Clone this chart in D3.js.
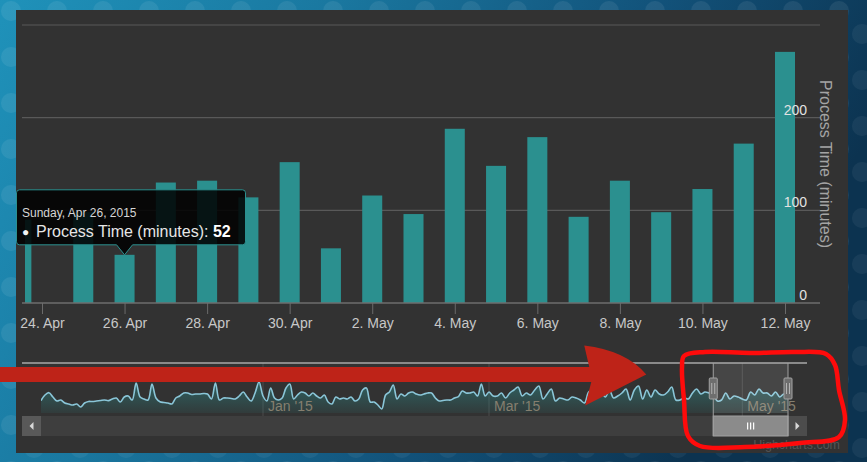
<!DOCTYPE html>
<html>
<head>
<meta charset="utf-8">
<script src="https://cdn.jsdelivr.net/npm/d3@7"></script>
<style>
  html, body { margin: 0; padding: 0; background: #14567a; overflow: hidden; }
  svg { display: block; font-family: "Liberation Sans", Arial, sans-serif; }
</style>
</head>
<body>
<svg id="chart" width="867" height="462"></svg>
<script>
// ---- data -------------------------------------------------------------
// Daily process time (minutes) shown in the zoomed column chart
const dayDates = ["2015-04-23T12:00Z", "2015-04-25", "2015-04-26", "2015-04-27", "2015-04-28",
  "2015-04-29", "2015-04-30", "2015-05-01", "2015-05-02", "2015-05-03", "2015-05-04",
  "2015-05-05", "2015-05-06", "2015-05-07", "2015-05-08", "2015-05-09", "2015-05-10",
  "2015-05-11", "2015-05-12"];
const processMinutes = [90, 98, 52, 130, 132, 114, 152, 59, 116, 96, 188, 148, 179, 93, 132,
  98, 123, 172, 271];

// x axis ticks (every second day) and y axis ticks
const xTickDates = ["2015-04-24", "2015-04-26", "2015-04-28", "2015-04-30", "2015-05-02",
  "2015-05-04", "2015-05-06", "2015-05-08", "2015-05-10", "2015-05-12"];
const yGridValues = [0, 100, 200, 300];
const yLabelValues = [0, 100, 200];

// Hovered point
const tooltipDate = "2015-04-26";
const seriesName = "Process Time (minutes)";

// Overview series for the navigator: one value per day from the start date
const overviewStart = "2014-11-06";
const overviewValues = [
  74,108,122,96,72,78,60,54,48,54,36,60,69,69,72,75,78,74,84,90,66,96,102,78,180,96,84,78,174,90,
  68,63,60,54,90,102,120,120,111,114,114,117,114,84,180,78,90,90,87,84,102,126,96,72,120,186,
  102,72,150,90,78,90,150,174,84,108,126,120,102,120,102,90,108,66,54,96,84,90,84,96,72,84,138,150,
  66,66,48,24,108,126,168,84,114,102,120,126,114,108,114,120,120,90,72,75,78,78,90,98,132,120,120,
  126,102,174,102,
  126,102,102,120,90,120,138,156,102,120,108,138,162,84,114,144,72,90,84,78,96,90,78,60,126,138,90,
  126,96,138,90,102,120,144,78,138,162,84,138,96,138,114,108,126,156,78,78,90,84,120,144,114,126,
  120,108,72,78,120,84,102,96,84,78,126,108,144,120,120,102,126,96,114,102];
const overviewTicks = ["2015-01-01", "2015-03-01", "2015-05-01"];
const overviewBreaks = ["2014-11-06", "2015-01-01", "2015-03-01", "2015-05-12"];
const selectedRange = ["2015-04-24", "2015-05-12"];

// ---- setup ------------------------------------------------------------
const parse = d3.isoParse;
const svg = d3.select("#chart");
const W = 867, H = 462;
const FONT = '"Liberation Sans", Arial, sans-serif';
const SERIES = "#2b908f";

const defs = svg.append("defs");

const bgGrad = defs.append("linearGradient").attr("id", "bgGrad")
  .attr("x1", 0).attr("y1", 0).attr("x2", 1).attr("y2", 0.3);
[["0%", "#1f92ba"], ["35%", "#1a78a0"], ["70%", "#12527a"], ["100%", "#0c3350"]]
  .forEach(([o, c]) => bgGrad.append("stop").attr("offset", o).attr("stop-color", c));

const pat = defs.append("pattern").attr("id", "bgPat")
  .attr("width", 46).attr("height", 46).attr("patternUnits", "userSpaceOnUse");
pat.append("circle").attr("cx", 11).attr("cy", 11).attr("r", 10).attr("fill", "#ffffff").attr("opacity", 0.07);
pat.append("circle").attr("cx", 34).attr("cy", 34).attr("r", 10).attr("fill", "#ffffff").attr("opacity", 0.05);

const panel = { x: 16, y: 10, w: 832, h: 443 };
const plot = { left: 22, clipLeft: 25, right: 820, top: 25, bottom: 303 };
const nav = { top: 363, bottom: 413, left: 41, right: 788, trackLeft: 22, trackRight: 807,
  barTop: 416, barBottom: 436 };

defs.append("clipPath").attr("id", "plotClip").append("rect")
  .attr("x", plot.clipLeft).attr("y", 0).attr("width", plot.right - plot.clipLeft).attr("height", plot.bottom);
defs.append("clipPath").attr("id", "panelClip").append("rect")
  .attr("x", panel.x).attr("y", panel.y).attr("width", panel.w).attr("height", panel.h);
defs.append("clipPath").attr("id", "navClip").append("rect")
  .attr("x", nav.left).attr("y", nav.top - 10).attr("width", nav.right - nav.left).attr("height", nav.bottom - nav.top + 10);

const areaGrad = defs.append("linearGradient").attr("id", "navFill")
  .attr("gradientUnits", "userSpaceOnUse").attr("x1", 0).attr("y1", nav.top).attr("x2", 0).attr("y2", nav.bottom);
areaGrad.append("stop").attr("offset", "0%").attr("stop-color", SERIES).attr("stop-opacity", 0.75);
areaGrad.append("stop").attr("offset", "100%").attr("stop-color", SERIES).attr("stop-opacity", 0.1);

// page background and chart panel
svg.append("rect").attr("width", W).attr("height", H).attr("fill", "url(#bgGrad)");
svg.append("rect").attr("width", W).attr("height", H).attr("fill", "url(#bgPat)");
svg.append("rect").attr("x", panel.x).attr("y", panel.y).attr("width", panel.w).attr("height", panel.h)
  .attr("fill", "#323232");

const root = svg.append("g").attr("clip-path", "url(#panelClip)");

// ---- main column chart -----------------------------------------------
const x = d3.scaleUtc().domain([parse("2015-04-24"), parse("2015-05-12")]).range([42, 785]);
const y = d3.scaleLinear().domain([0, 300]).range([plot.bottom, plot.top]);
const points = dayDates.map((d, i) => ({ date: parse(d), v: processMinutes[i] }));
const dayW = x(parse("2015-04-25")) - x(parse("2015-04-24"));
const barW = dayW * 0.485;

root.append("g").selectAll("line").data(yGridValues.filter(v => v > 0)).join("line")
  .attr("x1", plot.left).attr("x2", plot.right)
  .attr("y1", d => y(d)).attr("y2", d => y(d))
  .attr("stroke", "#595959").attr("stroke-width", 1.2);

root.append("g").attr("clip-path", "url(#plotClip)")
  .selectAll("rect").data(points).join("rect")
  .attr("x", d => x(d.date) - barW / 2)
  .attr("y", d => y(d.v))
  .attr("width", barW)
  .attr("height", d => y(0) - y(d.v))
  .attr("fill", SERIES);

// x axis
const xAxis = d3.axisBottom(x)
  .tickValues(xTickDates.map(parse))
  .tickSize(11).tickPadding(4)
  .tickFormat(d3.utcFormat("%-d. %b"));
const gx = root.append("g").attr("transform", `translate(0,${plot.bottom})`).call(xAxis);
gx.select(".domain").remove();
gx.selectAll(".tick line").attr("stroke", "#6a6a6a");
gx.selectAll(".tick text").attr("fill", "#c8c8c8").attr("font-size", 14).attr("font-family", FONT);
root.append("line").attr("x1", plot.left).attr("x2", plot.right)
  .attr("y1", plot.bottom).attr("y2", plot.bottom).attr("stroke", "#6e6e6e").attr("stroke-width", 1.5);

// y labels sit just above their grid lines, right aligned
root.append("g").selectAll("text").data(yLabelValues).join("text")
  .attr("x", 807).attr("y", d => y(d) - 3)
  .attr("text-anchor", "end")
  .attr("font-size", 14).attr("font-family", FONT).attr("fill", "#e2e2e2")
  .text(d => d);

root.append("text")
  .attr("transform", `translate(826,${(plot.top + plot.bottom) / 2}) rotate(90)`)
  .attr("text-anchor", "middle").attr("dy", "0.35em")
  .attr("font-size", 16).attr("font-family", FONT).attr("fill", "#a4a4a4")
  .text(seriesName);

// ---- tooltip ----------------------------------------------------------
const hovered = points.find(p => +p.date === +parse(tooltipDate));
const ax = x(hovered.date), ay = y(hovered.v);
const tw = 229, th = 55, tr = 3, hw = 8;
const tx0 = Math.max(panel.x + 0.5, ax - tw / 2), ty0 = ay - 10 - th;
function callout(x0, y0, w, h, r, px, py, half) {
  return `M${x0 + r},${y0} H${x0 + w - r} Q${x0 + w},${y0} ${x0 + w},${y0 + r} V${y0 + h - r}` +
    ` Q${x0 + w},${y0 + h} ${x0 + w - r},${y0 + h} H${px + half} L${px},${py} L${px - half},${y0 + h}` +
    ` H${x0 + r} Q${x0},${y0 + h} ${x0},${y0 + h - r} V${y0 + r} Q${x0},${y0} ${x0 + r},${y0} Z`;
}
const tip = root.append("g");
tip.append("path").attr("d", callout(tx0, ty0, tw, th, tr, ax, ay, hw))
  .attr("fill", "rgba(0,0,0,0.86)").attr("stroke", SERIES).attr("stroke-width", 1);
tip.append("text").attr("x", tx0 + 5.5).attr("y", ty0 + 27)
  .attr("font-size", 12).attr("font-family", FONT).attr("fill", "#d6d6d6")
  .text(d3.utcFormat("%A, %b %-d, %Y")(hovered.date));
tip.append("text").attr("x", tx0 + 5.5).attr("y", ty0 + 46)
  .attr("font-size", 12).attr("font-family", FONT).attr("fill", "#f2f2f2").text("●");
const line2 = tip.append("text").attr("x", tx0 + 19.5).attr("y", ty0 + 47)
  .attr("font-size", 16).attr("font-family", FONT).attr("fill", "#e6e6e6");
line2.append("tspan").text(seriesName + ": ");
line2.append("tspan").attr("font-weight", "bold").attr("fill", "#ffffff").text(hovered.v);

// ---- navigator --------------------------------------------------------
const startDate = parse(overviewStart);
const overview = overviewValues.map((v, i) => ({ date: d3.utcDay.offset(startDate, i), v }));
const navX = d3.scaleUtc().domain(overviewBreaks.map(parse))
  .range([nav.left, 263, 489, nav.right]);
const navY = d3.scaleLinear().domain([0, 300]).range([nav.bottom, nav.top]);

// month grid lines
root.append("g").selectAll("line").data(overviewTicks.map(parse)).join("line")
  .attr("x1", d => navX(d)).attr("x2", d => navX(d))
  .attr("y1", nav.top).attr("y2", nav.barTop)
  .attr("stroke", "#4b4b4b").attr("stroke-width", 1);

const navG = root.append("g").attr("clip-path", "url(#navClip)");
navG.append("path").datum(overview)
  .attr("d", d3.area().x(d => navX(d.date)).y0(nav.bottom).y1(d => navY(d.v)).curve(d3.curveCatmullRom))
  .attr("fill", "url(#navFill)");
navG.append("path").datum(overview)
  .attr("d", d3.line().x(d => navX(d.date)).y(d => navY(d.v)).curve(d3.curveCatmullRom))
  .attr("fill", "none").attr("stroke", "#8ac6d8").attr("stroke-width", 1.6);

root.append("g").selectAll("text").data(overviewTicks.map(parse)).join("text")
  .attr("x", d => navX(d) + 5).attr("y", 411)
  .attr("font-size", 14).attr("font-family", FONT).attr("fill", "#857f6f")
  .text(d3.utcFormat("%b '%y"));

// selected window
const selL = navX(parse(selectedRange[0])), selR = navX(parse(selectedRange[1]));
root.append("rect").attr("x", selL).attr("y", nav.top).attr("width", selR - selL)
  .attr("height", nav.bottom - nav.top).attr("fill", "rgba(255,255,255,0.1)");

// scrollbar track and buttons
root.append("rect").attr("x", nav.trackLeft).attr("y", nav.barTop)
  .attr("width", nav.trackRight - nav.trackLeft).attr("height", nav.barBottom - nav.barTop)
  .attr("fill", "#3e3e3e");
root.append("rect").attr("x", nav.trackLeft).attr("y", nav.barTop)
  .attr("width", nav.left - nav.trackLeft).attr("height", nav.barBottom - nav.barTop)
  .attr("fill", "#595959");
root.append("rect").attr("x", nav.right).attr("y", nav.barTop)
  .attr("width", nav.trackRight - nav.right).attr("height", nav.barBottom - nav.barTop)
  .attr("fill", "#4c4c4c");
const midBar = (nav.barTop + nav.barBottom) / 2;
const lbx = (nav.trackLeft + nav.left) / 2, rbx = (nav.right + nav.trackRight) / 2;
root.append("path").attr("d", `M${lbx + 2},${midBar - 4} L${lbx - 2},${midBar} L${lbx + 2},${midBar + 4} Z`).attr("fill", "#d8d8d8");
root.append("path").attr("d", `M${rbx - 2},${midBar - 4} L${rbx + 2},${midBar} L${rbx - 2},${midBar + 4} Z`).attr("fill", "#d8d8d8");

// scrollbar thumb with grip
root.append("rect").attr("x", selL).attr("y", nav.barTop).attr("width", selR - selL)
  .attr("height", nav.barBottom - nav.barTop).attr("fill", "#8b8b8b").attr("stroke", "#a0a0a0");
const gripX = (selL + selR) / 2;
root.append("g").selectAll("line").data([-3, 0, 3]).join("line")
  .attr("x1", d => gripX + d).attr("x2", d => gripX + d)
  .attr("y1", midBar - 3.5).attr("y2", midBar + 3.5)
  .attr("stroke", "#ffffff").attr("stroke-width", 1.2);

// outline: top edge plus the window sides
root.append("line").attr("x1", nav.trackLeft).attr("x2", nav.trackRight)
  .attr("y1", nav.top).attr("y2", nav.top).attr("stroke", "#a8a8a8").attr("stroke-width", 1.6);
root.append("g").selectAll("line").data([selL, selR]).join("line")
  .attr("x1", d => d).attr("x2", d => d).attr("y1", nav.top).attr("y2", nav.barBottom)
  .attr("stroke", "#a0a0a0").attr("stroke-width", 1);

// window handles
const handles = root.append("g").selectAll("g").data([selL, selR]).join("g")
  .attr("transform", d => `translate(${d},388)`);
handles.append("rect").attr("x", -4).attr("y", -10).attr("width", 8).attr("height", 21)
  .attr("rx", 1).attr("fill", "#6e6e6e").attr("stroke", "#a2a2a2");
handles.selectAll("line").data([-1.5, 1.5]).join("line")
  .attr("x1", d => d).attr("x2", d => d).attr("y1", -5).attr("y2", 6)
  .attr("stroke", "#b4b4b4").attr("stroke-width", 1);

// credits
root.append("text").attr("x", 840).attr("y", 449).attr("text-anchor", "end")
  .attr("font-size", 12.5).attr("font-family", FONT).attr("fill", "#565656")
  .text("Highcharts.com");

// ---- hand-drawn markup: arrow toward the navigator window, loop around it
const arrowY = nav.top + 11.5;
const tipX = selL - 67;
svg.append("path")
  .attr("d", `M0,${arrowY - 7.5} L${tipX - 57},${arrowY - 7.5} L${tipX - 62},${arrowY - 29}` +
    ` Q${tipX - 20},${arrowY - 24} ${tipX},${arrowY}` +
    ` L${tipX - 61},${arrowY + 31} L${tipX - 55},${arrowY + 7.5} L0,${arrowY + 7.5} Z`)
  .attr("fill", "#be2318");

const loop = [[684, 356], [705, 352], [750, 353], [795, 352], [826, 354], [835, 365], [839, 390],
  [845, 420], [839, 437], [800, 443], [745, 447], [700, 446], [688, 436], [684, 400], [682, 368]];
svg.append("path")
  .attr("d", d3.line().curve(d3.curveCatmullRomClosed)(loop))
  .attr("fill", "none").attr("stroke", "#ff0b0b").attr("stroke-width", 4.5)
  .attr("stroke-linejoin", "round");
</script>
</body>
</html>
